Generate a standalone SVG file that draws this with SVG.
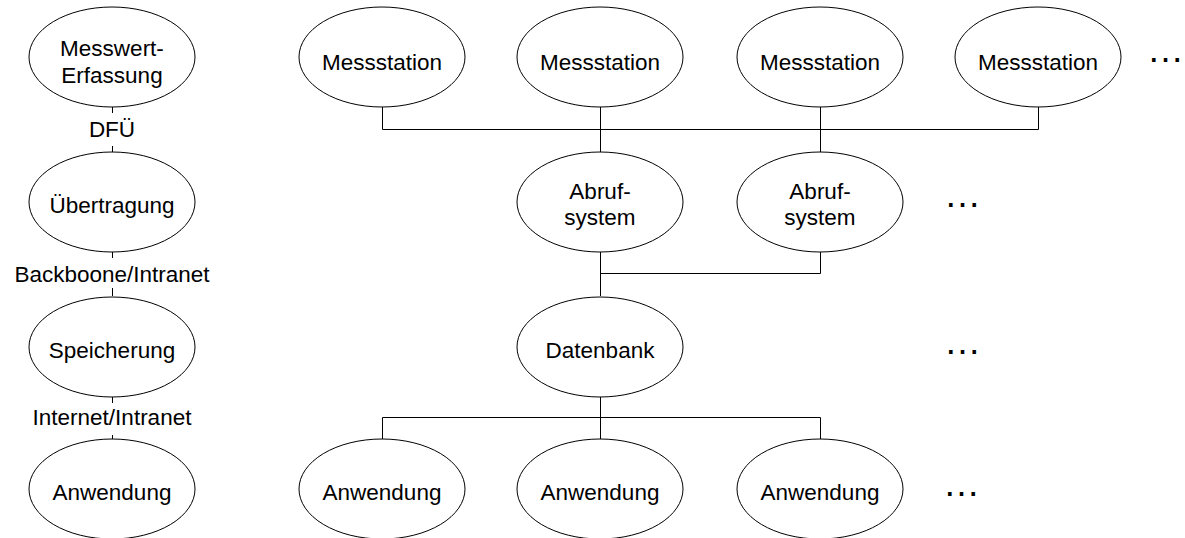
<svg xmlns="http://www.w3.org/2000/svg" width="1185" height="538" viewBox="0 0 1185 538">
<style>
ellipse{fill:#fff;stroke:#000;stroke-width:1}
text{font-family:"Liberation Sans",Arial,sans-serif;font-size:22.5px;fill:#000;text-anchor:middle}
.c{fill:none;stroke:#000;stroke-width:1}
.d{font-size:37px}
</style>
<rect width="1185" height="538" fill="#fff"/>
<g id="connectors">
<path class="c" d="M112.5 107v6M112.5 146v6M112.5 252v6M112.5 288v8M112.5 397v6M112.5 435v4"/>
<path class="c" d="M382.5 107v22.5h656v-22.5M600.5 107v45M820.5 107v45"/>
<path class="c" d="M600.5 252v44M820.5 252v21.5h-220"/>
<path class="c" d="M600.5 397v42M382.5 439v-21.5h438v21.5"/>
</g>
<g id="l1"><ellipse cx="112" cy="57" rx="83" ry="50"/><text x="112" y="56">Messwert-</text><text x="112" y="83">Erfassung</text></g>
<text x="112" y="137">DFÜ</text>
<g id="l2"><ellipse cx="112" cy="202" rx="83" ry="50"/><text x="112" y="213">Übertragung</text></g>
<text x="112" y="282">Backboone/Intranet</text>
<g id="l3"><ellipse cx="112" cy="347" rx="83" ry="50"/><text x="112" y="358">Speicherung</text></g>
<text x="112" y="425">Internet/Intranet</text>
<g id="l4"><ellipse cx="112" cy="489" rx="83" ry="50"/><text x="112" y="500">Anwendung</text></g>

<g id="m1"><ellipse cx="382" cy="57" rx="83" ry="50"/><text x="382" y="70">Messstation</text></g>
<g id="m2"><ellipse cx="600" cy="57" rx="83" ry="50"/><text x="600" y="70">Messstation</text></g>
<g id="m3"><ellipse cx="820" cy="57" rx="83" ry="50"/><text x="820" y="70">Messstation</text></g>
<g id="m4"><ellipse cx="1038" cy="57" rx="83" ry="50"/><text x="1038" y="70">Messstation</text></g>
<text class="d" x="1165.5" y="62">…</text>

<g id="a1"><ellipse cx="600" cy="202" rx="83" ry="50"/><text x="600" y="199">Abruf-</text><text x="600" y="225">system</text></g>
<g id="a2"><ellipse cx="820" cy="202" rx="83" ry="50"/><text x="820" y="199">Abruf-</text><text x="820" y="225">system</text></g>
<text class="d" x="962.5" y="207">…</text>

<g id="db"><ellipse cx="600" cy="347" rx="83" ry="50"/><text x="600" y="358">Datenbank</text></g>
<text class="d" x="962.5" y="354">…</text>

<g id="w1"><ellipse cx="382" cy="489" rx="83" ry="50"/><text x="382" y="500">Anwendung</text></g>
<g id="w2"><ellipse cx="600" cy="489" rx="83" ry="50"/><text x="600" y="500">Anwendung</text></g>
<g id="w3"><ellipse cx="820" cy="489" rx="83" ry="50"/><text x="820" y="500">Anwendung</text></g>
<text class="d" x="961.5" y="496">…</text>
</svg>
